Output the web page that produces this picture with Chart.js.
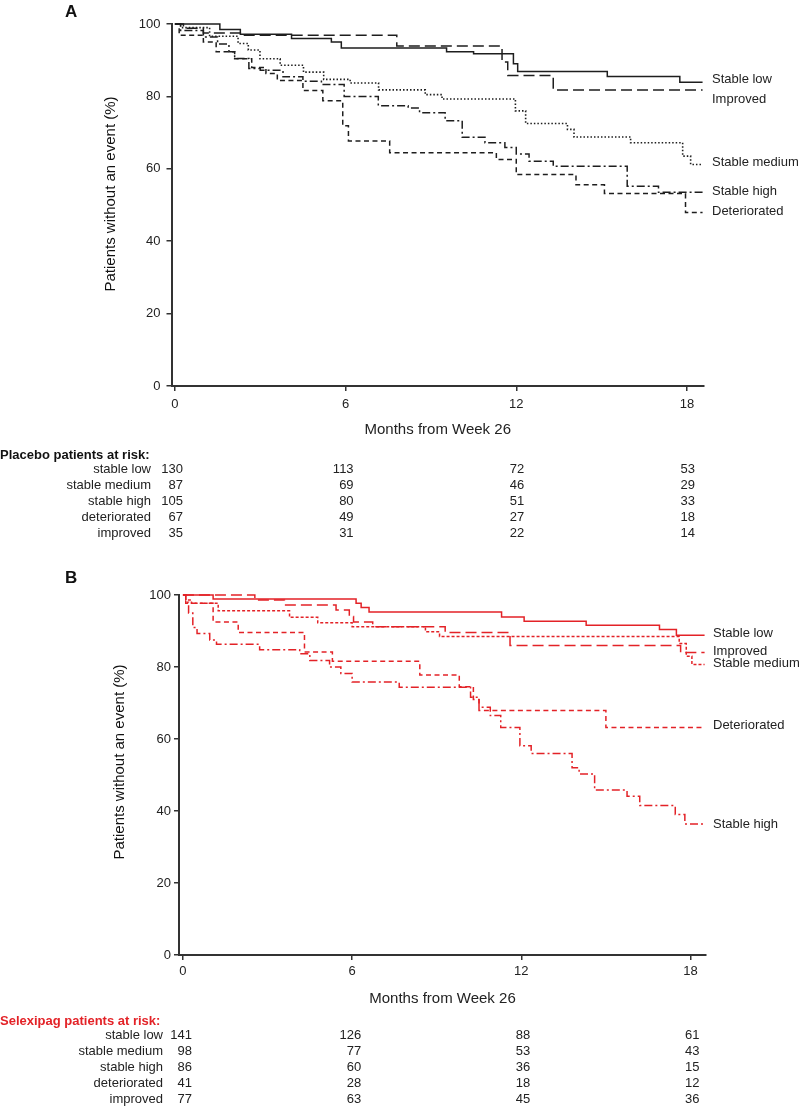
<!DOCTYPE html>
<html lang="en">
<head>
<meta charset="UTF-8">
<title>Event-free survival by risk status</title>
<script src="https://cdn.jsdelivr.net/npm/chart.js"></script>
<style>
  body { margin: 0; background: #fff; }
  canvas { position: absolute; left: 0; }
</style>
</head>
<body>
<canvas id="placeboChart" style="top:0" width="800" height="545"></canvas>
<canvas id="selexipagChart" style="top:545px" width="800" height="561"></canvas>
<script>
// curve names, in dataset order
const groups = ['Stable low', 'Improved', 'Stable medium', 'Stable high', 'Deteriorated'];
const riskGroups = ['stable low', 'stable medium', 'stable high', 'deteriorated', 'improved'];
const riskMonths = [0, 6, 12, 18];
const monthTicks = [0, 6, 12, 18];
const percentTicks = [0, 20, 40, 60, 80, 100];

// Kaplan-Meier steps: [month, % without event]
const placeboStableLow = [[0,100],[1.58,98.5],[2.3,97.2],[4.1,96],[5.5,95],[5.85,93.4],[9.55,92.3],[10.5,91.8],[11.9,89],[12.05,86.9],[15.2,85.5],[17.75,83.9],[18.55,83.9]];
const placeboImproved = [[0,100],[0.3,98.8],[1.0,97.5],[2.3,96.9],[7.8,93.9],[11.5,89.5],[11.7,85.8],[13.3,81.8],[18.55,81.8]];
const placeboStableMedium = [[0,100],[0.2,99],[1.22,96.6],[2.22,94.6],[2.58,92.8],[2.99,90.4],[3.7,88.6],[4.52,86.7],[5.23,84.7],[6.16,83.7],[7.16,81.8],[8.8,80.5],[9.39,79.3],[11.97,76],[12.33,72.5],[13.8,70.9],[14.03,68.8],[16.02,67.2],[17.85,63.5],[18.13,61.2],[18.55,61.2]];
const placeboStableHigh = [[0,100],[0.2,98.2],[1.0,96.4],[1.5,94.5],[1.9,92.3],[2.1,90.5],[2.6,87.7],[3.0,87.2],[3.8,85.4],[4.5,84.2],[5.15,83.3],[5.95,80],[7.15,77.4],[8.2,76.8],[8.6,75.5],[9.5,73.3],[10.1,68.7],[10.9,67.2],[11.6,65.9],[12.0,64.1],[12.45,62.1],[13.3,60.7],[15.9,55.2],[17.0,53.5],[18.55,53.5]];
const placeboDeteriorated = [[0,100],[0.15,96.9],[1.0,95],[1.45,92.3],[2.1,90.4],[2.7,88],[3.2,86.3],[3.6,84.4],[4.5,81.6],[5.2,78.8],[5.9,71.9],[6.1,67.7],[7.55,64.4],[11.3,62.6],[12.0,58.4],[14.1,55.6],[15.1,53.2],[17.95,47.9],[18.55,47.9]];

const selexipagStableLow = [[0,100],[1.07,98.9],[6.14,97.7],[6.32,96.5],[6.6,95.3],[11.3,93.9],[12.1,92.7],[14.3,91.6],[16.9,90.4],[17.5,88.8],[18.5,88.8]];
const selexipagImproved = [[0,100],[2.55,98.6],[3.6,97.2],[5.43,95.8],[5.9,94],[6.05,92.5],[6.73,91.2],[9.3,89.6],[11.6,86],[17.65,84],[18.5,84]];
const selexipagStableMedium = [[0,100],[0.1,98.6],[0.3,97.7],[1.25,95.6],[3.78,93.8],[4.78,92.3],[6.0,91.2],[8.6,89.8],[9.1,88.5],[17.6,86.5],[17.85,83],[18.05,80.7],[18.5,80.7]];
const selexipagStableHigh = [[0,100],[0.1,98],[0.2,95],[0.35,91],[0.5,89.3],[0.95,87.5],[1.19,86.3],[2.72,84.8],[4.14,83.7],[4.5,81.8],[5.2,80],[5.6,78.2],[6.0,75.8],[7.67,74.4],[10.2,71.6],[10.5,68.8],[10.9,66.5],[11.27,63.2],[11.95,58.1],[12.35,56],[13.8,52],[14.05,50.3],[14.6,45.8],[15.75,44.1],[16.2,41.5],[17.46,39],[17.8,36.4],[18.5,36.4]];
const selexipagDeteriorated = [[0,100],[0.1,97.7],[1.07,92.5],[1.96,89.6],[4.31,84.2],[5.3,81.6],[8.4,77.8],[9.8,74.5],[10.3,71],[10.5,67.9],[15.0,63.2],[18.5,63.2]];

// patients at risk at months 0, 6, 12, 18 (rows follow riskGroups)
const placeboAtRisk = [[130,113,72,53],[87,69,46,29],[105,80,51,33],[67,49,27,18],[35,31,22,14]];
const selexipagAtRisk = [[141,126,88,61],[98,77,53,43],[86,60,36,15],[41,28,18,12],[77,63,45,36]];

// where the curve names sit on the % axis (follows groups)
const placeboLabelAt = [84.6, 79.1, 61.8, 53.8, 48.3];
const selexipagLabelAt = [89.4, 84.4, 81, 36.4, 63.7];

const FONT = '"Liberation Sans", Arial, Helvetica, sans-serif';
Chart.defaults.font.family = FONT;
Chart.defaults.color = '#222';

const panelText = {
  id: 'panelText',
  afterDraw(chart, args, o) {
    const ctx = chart.ctx, xs = chart.scales.x, ys = chart.scales.y;
    ctx.save();
    ctx.fillStyle = '#111';
    ctx.textBaseline = 'middle';
    ctx.textAlign = 'left';
    ctx.font = 'bold 17px ' + FONT;
    ctx.fillText(o.letter, 65, o.letterY);

    // y axis title
    ctx.save();
    ctx.translate(o.yTitleX, o.yTitleY);
    ctx.rotate(-Math.PI / 2);
    ctx.textAlign = 'center';
    ctx.font = '15px ' + FONT;
    ctx.fillText('Patients without an event (%)', 0, 0);
    ctx.restore();

    // curve names at the right
    ctx.font = '13px ' + FONT;
    ctx.fillStyle = '#222';
    groups.forEach((g, i) => ctx.fillText(g, o.labelX, ys.getPixelForValue(o.labelAt[i])));

    // risk table
    ctx.font = 'bold 13px ' + FONT;
    ctx.fillStyle = o.headColor;
    ctx.fillText(o.heading, 0, o.tableTop);
    ctx.font = '13px ' + FONT;
    ctx.fillStyle = '#222';
    ctx.textAlign = 'right';
    riskGroups.forEach((name, r) => {
      const ry = o.tableTop + 14 + r * 16;
      ctx.fillText(name, o.nameRight, ry);
      o.counts[r].forEach((n, c) => {
        ctx.fillText(String(n), xs.getPixelForValue(riskMonths[c]) + o.countShift, ry);
      });
    });
    ctx.restore();
  }
};

function makePanel(id, p) {
  const datasets = p.series.map((s, i) => ({
    label: groups[i],
    data: s.data.map(d => ({ x: d[0], y: d[1] })),
    stepped: 'before',
    borderColor: p.color,
    borderWidth: s.width || 1.5,
    borderDash: s.dash,
    pointRadius: 0,
    fill: false,
    clip: 6
  }));
  return new Chart(document.getElementById(id), {
    type: 'line',
    data: { datasets },
    options: {
      responsive: false,
      animation: false,
      layout: { padding: { left: p.left, right: p.right, top: p.top, bottom: p.bottom } },
      plugins: {
        legend: { display: false },
        tooltip: { enabled: false },
        panelText: p.text
      },
      scales: {
        x: {
          type: 'linear',
          min: p.xMin,
          max: p.xMax,
          afterBuildTicks: s => { s.ticks = monthTicks.map(v => ({ value: v })); },
          afterFit: s => { s.height = 56; },
          grid: { display: true, drawOnChartArea: false, drawTicks: true, tickLength: 5, color: '#333', lineWidth: 1.5 },
          border: { display: true, color: '#333', width: 2 },
          ticks: { color: '#222', font: { size: 13 }, padding: p.xTickPad, maxRotation: 0, autoSkip: false },
          title: { display: true, text: 'Months from Week 26', color: '#222', font: { size: 15 }, padding: { top: 0, bottom: 3 } }
        },
        y: {
          type: 'linear',
          min: 0,
          max: 100,
          afterBuildTicks: s => { s.ticks = percentTicks.map(v => ({ value: v })); },
          afterFit: s => { s.width = p.yWidth; },
          grid: { display: true, drawOnChartArea: false, drawTicks: true, tickLength: 5, color: '#333', lineWidth: 1.5 },
          border: { display: true, color: '#333', width: 2 },
          ticks: { color: '#222', font: { size: 13 }, padding: p.yTickPad }
        }
      }
    },
    plugins: [panelText]
  });
}

makePanel('placeboChart', {
  color: '#1e1e1e',
  series: [
    { data: placeboStableLow, dash: [] },
    { data: placeboImproved, dash: [11, 5] },
    { data: placeboStableMedium, dash: [1.5, 2], width: 1.6 },
    { data: placeboStableHigh, dash: [8, 3, 2, 3] },
    { data: placeboDeteriorated, dash: [5, 3.5] }
  ],
  left: 102, right: 96, top: 24, bottom: 103,
  yWidth: 69.5, xMin: -0.12, xMax: 18.6, xTickPad: 6, yTickPad: 6,
  text: {
    letter: 'A', letterY: 12, yTitleX: 111, yTitleY: 194,
    labelX: 712, labelAt: placeboLabelAt,
    heading: 'Placebo patients at risk:', headColor: '#111',
    tableTop: 455, nameRight: 151, countShift: 8, counts: placeboAtRisk
  }
});

makePanel('selexipagChart', {
  color: '#e32227',
  series: [
    { data: selexipagStableLow, dash: [] },
    { data: selexipagImproved, dash: [11, 5] },
    { data: selexipagStableMedium, dash: [3, 2] },
    { data: selexipagStableHigh, dash: [8, 3, 2, 3] },
    { data: selexipagDeteriorated, dash: [5, 3.5] }
  ],
  left: 111, right: 94, top: 50, bottom: 95,
  yWidth: 68, xMin: -0.14, xMax: 18.55, xTickPad: 4, yTickPad: 3,
  text: {
    letter: 'B', letterY: 33, yTitleX: 120, yTitleY: 217,
    labelX: 713, labelAt: selexipagLabelAt,
    heading: 'Selexipag patients at risk:', headColor: '#e32227',
    tableTop: 476, nameRight: 163, countShift: 9, counts: selexipagAtRisk
  }
});
</script>
</body>
</html>
